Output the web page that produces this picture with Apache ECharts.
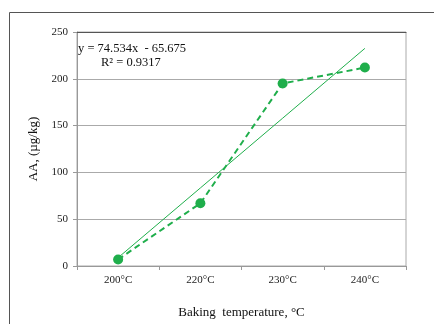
<!DOCTYPE html>
<html>
<head>
<meta charset="utf-8">
<script src="https://cdn.jsdelivr.net/npm/echarts@6/dist/echarts.min.js"></script>
<style>
  html, body { margin: 0; padding: 0; background: #fff; }
  #chart { width: 434px; height: 324px; }
</style>
</head>
<body>
<div id="chart"></div>
<script>
// baking temperature vs AA
const temps = ["200°C", "220°C", "230°C", "240°C"];
const aaValues = [7, 67, 195, 212];
// linear trend y = 74.534x - 65.675 (x = 1..4)
const trendValues = [8.9, 83.4, 157.9, 232.5];
const yTicks = { min: 0, max: 250, step: 50 };

const GREEN = "#1fae4b";
const FONT = "Liberation Serif";

const chart = echarts.init(document.getElementById("chart"));
chart.setOption({
    animation: false,
    textStyle: { fontFamily: FONT },
    grid: { left: 77, right: 28, top: 32, bottom: 51, show: true, borderColor: "#aaa", borderWidth: 1 },
    graphic: [
        {
            type: "rect", left: 7, top: 10,
            shape: { width: 450, height: 340 },
            style: { fill: null, stroke: "#555", lineWidth: 1 },
            silent: true, z: -1,
        },
        {
            type: "text", left: 78, top: 42,
            style: { text: "y = 74.534x  - 65.675", font: "12.5px " + FONT, fill: "#111" },
        },
        {
            type: "text", left: 101, top: 56,
            style: { text: "R² = 0.9317", font: "12.5px " + FONT, fill: "#111" },
        },
    ],
    xAxis: [
        {
            type: "category",
            data: temps,
            boundaryGap: true,
            name: "Baking  temperature, °C",
            nameLocation: "middle",
            nameGap: 40,
            nameTextStyle: { fontSize: 13, color: "#111", fontFamily: FONT },
            axisLine: { lineStyle: { color: "#999" } },
            axisTick: { show: true, length: 4, lineStyle: { color: "#999" } },
            axisLabel: { color: "#222", fontSize: 11, margin: 9, fontFamily: FONT },
        },
        {
            type: "category",
            data: temps,
            position: "top",
            axisLine: { lineStyle: { color: "#555" } },
            axisTick: { show: false },
            axisLabel: { show: false },
        },
    ],
    yAxis: {
        type: "value",
        min: yTicks.min,
        max: yTicks.max,
        interval: yTicks.step,
        name: "AA, (µg/kg)",
        nameLocation: "middle",
        nameRotate: 90,
        nameGap: 37,
        nameTextStyle: { fontSize: 13, color: "#111", fontFamily: FONT },
        axisLine: { show: true, lineStyle: { color: "#999" } },
        axisTick: { show: true, length: 4, lineStyle: { color: "#999" } },
        axisLabel: { color: "#222", fontSize: 11, margin: 9, fontFamily: FONT },
        splitLine: { lineStyle: { color: "#aaa" } },
    },
    series: [
        {
            type: "line",
            data: trendValues,
            symbol: "none",
            lineStyle: { color: GREEN, width: 1 },
            z: 2,
        },
        {
            type: "line",
            data: aaValues,
            symbol: "circle",
            symbolSize: 10,
            itemStyle: { color: GREEN },
            lineStyle: { color: GREEN, width: 2, type: [6, 4] },
            z: 3,
        },
    ],
});
</script>
</body>
</html>
